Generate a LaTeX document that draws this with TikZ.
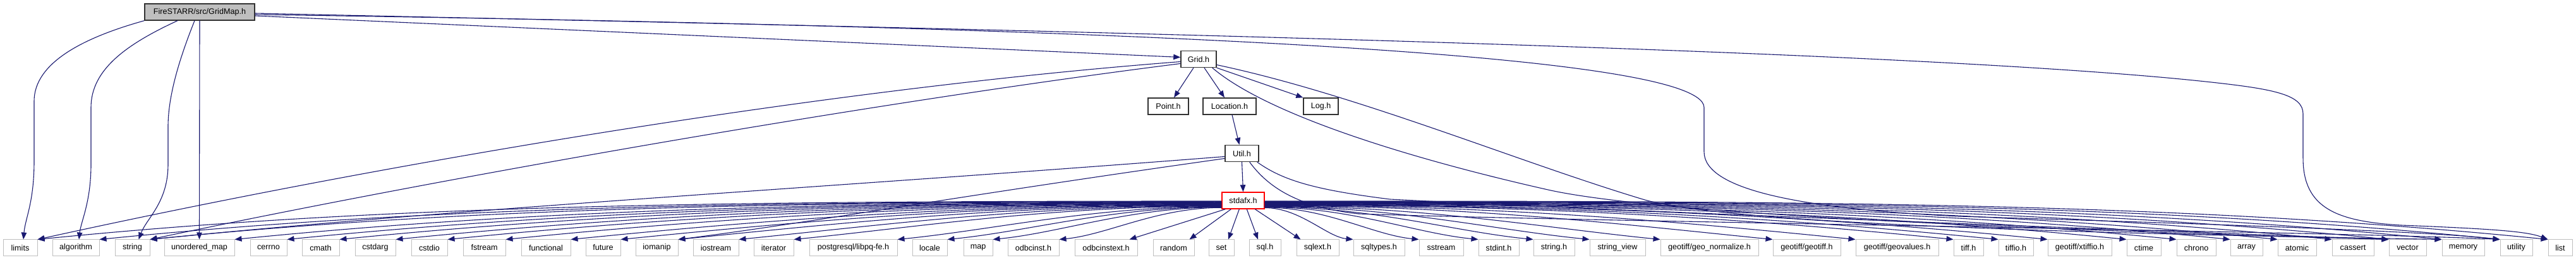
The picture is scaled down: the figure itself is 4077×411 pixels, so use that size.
\documentclass[tikz,border=0pt]{standalone}
\usepackage{fontspec}
\setmainfont{Liberation Sans}
\usetikzlibrary{arrows.meta,calc}
\definecolor{edgeblue}{RGB}{25,25,112}
\definecolor{leafgray}{RGB}{191,191,191}
\definecolor{rootfill}{RGB}{191,191,191}
\definecolor{boxline}{RGB}{50,50,50}
\newcommand\leafnode[4]{\node[leaf,minimum width=#3pt] (#1) at (#2,391.5) {#4};}
\begin{document}
\begin{tikzpicture}[x=1pt,y=-1pt,
  font=\fontsize{12.6}{15}\selectfont,
  leaf/.style={draw=leafgray,line width=1pt,fill=white,minimum height=25pt,inner sep=0pt},
  hdr/.style={draw=boxline,line width=1.4pt,fill=white,minimum height=26pt,inner sep=0pt},
  root/.style={hdr,fill=rootfill},
  trunc/.style={hdr,draw=red},
  conn/.style={draw=edgeblue,line width=1.1pt,-{Triangle[length=11pt,width=8.5pt]}},
  fan/.style={to path={let \p1=(\tikztostart), \p2=(\tikztotarget), \n1={\x2-\x1}, \n2={abs(\x2-\x1)} in .. controls ({\x1+0.4*(\n1)},\y1) and ({\x2-0.3*(\n1)},{\y2+0.03*(\n2)}) .. (\p2)}}
]
\fill[white] (0,0) rectangle (4077,411);
\useasboundingbox (0,0) rectangle (4077,411);

% upper nodes
\node[root,minimum width=174pt] (GridMap) at (316,19) {FireSTARR/src/GridMap.h};
\node[hdr,minimum width=56pt] (Grid) at (1897,93.5) {Grid.h};
\node[hdr,minimum width=64pt] (Point) at (1849,168) {Point.h};
\node[hdr,minimum width=84pt] (Location) at (1946,168) {Location.h};
\node[hdr,minimum width=55pt] (Log) at (2090.5,168) {Log.h};
\node[hdr,minimum width=53pt] (Util) at (1965.5,242.5) {Util.h};
\node[trunc,minimum width=67pt] (stdafx) at (1967.5,317) {stdafx.h};

% leaves
\leafnode{lm}{32}{54}{limits}
\leafnode{alg}{120}{74}{algorithm}
\leafnode{str}{209.5}{55}{string}
\leafnode{umap}{315.5}{111}{unordered\_map}
\leafnode{cerrno}{425}{58}{cerrno}
\leafnode{cmath}{507.5}{59}{cmath}
\leafnode{cstdarg}{594}{64}{cstdarg}
\leafnode{cstdio}{679.5}{57}{cstdio}
\leafnode{fstream}{766.5}{67}{fstream}
\leafnode{functional}{864}{78}{functional}
\leafnode{future}{954.5}{55}{future}
\leafnode{iomanip}{1039.5}{67}{iomanip}
\leafnode{iostream}{1133}{72}{iostream}
\leafnode{iterator}{1224.5}{63}{iterator}
\leafnode{pq}{1350.5}{139}{postgresql/libpq-fe.h}
\leafnode{locale}{1471.5}{55}{locale}
\leafnode{map}{1548}{46}{map}
\leafnode{odbc}{1635.5}{81}{odbcinst.h}
\leafnode{odbcx}{1750.5}{99}{odbcinstext.h}
\leafnode{random}{1857.5}{65}{random}
\leafnode{set}{1933}{40}{set}
\leafnode{sql}{2002}{50}{sql.h}
\leafnode{sqlext}{2085.5}{67}{sqlext.h}
\leafnode{sqltypes}{2182.5}{81}{sqltypes.h}
\leafnode{sstream}{2281}{70}{sstream}
\leafnode{stdint}{2372}{64}{stdint.h}
\leafnode{stringh}{2459.5}{65}{string.h}
\leafnode{sview}{2560}{88}{string\_view}
\leafnode{geonorm}{2705.5}{155}{geotiff/geo\_normalize.h}
\leafnode{geotiff}{2859.5}{107}{geotiff/geotiff.h}
\leafnode{geoval}{3002.5}{131}{geotiff/geovalues.h}
\leafnode{tiff}{3115.5}{47}{tiff.h}
\leafnode{tiffio}{3190.5}{55}{tiffio.h}
\leafnode{xtiffio}{3291.5}{101}{geotiff/xtiffio.h}
\leafnode{ctime}{3393}{54}{ctime}
\leafnode{chrono}{3476}{62}{chrono}
\leafnode{array}{3555.5}{51}{array}
\leafnode{atomic}{3635.5}{61}{atomic}
\leafnode{cassert}{3724}{66}{cassert}
\leafnode{vector}{3810.5}{59}{vector}
\leafnode{memory}{3898.5}{67}{memory}
\leafnode{utility}{3982.5}{51}{utility}
\leafnode{list}{4052}{38}{list}

% GridMap.h edges
\draw[conn] (GridMap.south west) .. controls (130,60) and (54,100) .. (54,160) -- (54,255) .. controls (54,320) and (40,345) .. ([xshift=5]lm.north);
\draw[conn] ([xshift=-35]GridMap.south) .. controls (200,70) and (144,110) .. (144,170) -- (144,260) .. controls (144,320) and (128,350) .. ([xshift=5]alg.north);
\draw[conn] ([xshift=-8]GridMap.south) .. controls (285,90) and (266,150) .. (266,200) -- (266,260) .. controls (266,320) and (232,345) .. ([xshift=10]str.north);
\draw[conn] (GridMap.south) -- (umap.north);
\draw[conn] ([yshift=-6]GridMap.east) -- ([yshift=3]Grid.west);
\draw[conn] ([yshift=-2]GridMap.east) .. controls (1500,45) and (3000,75) .. (3500,130) .. controls (3600,141) and (3645,150) .. (3645,180) -- (3645,250) .. controls (3645,330) and (3700,350) .. (3800,356) .. controls (3950,362) and (4000,366) .. (list.north west);
\draw[conn] ([yshift=-4]GridMap.east) .. controls (1700,42) and (2697,80) .. (2697,170) -- (2697,240) .. controls (2697,300) and (2850,330) .. (3100,342) .. controls (3500,354) and (3850,366) .. (utility.north west);

% Grid.h edges
\draw[conn] ([xshift=-8]Grid.south) -- ([xshift=9]Point.north);
\draw[conn] ([xshift=9]Grid.south) -- ([xshift=-8]Location.north);
\draw[conn] (Grid.south east) -- (Log.north west);
\draw[conn] ([yshift=-4]Grid.west) .. controls ($(Grid.west)+(-600,50)$) and ($(lm.north east)+(500,-110)$) .. (lm.north east);
\draw[conn] ([yshift=-7]Grid.west) .. controls ($(Grid.west)+(-500,70)$) and ($(str.north east)+(450,-95)$) .. (str.north east);
\draw[conn] ([yshift=-9]Grid.east) .. controls (2150,150) and (2400,255) .. (2600,315) .. controls (2750,360) and (3500,372) .. (memory.north west);
\draw[conn] ([xshift=-7]Grid.south east) .. controls (2010,185) and (2250,255) .. (2450,300) .. controls (2650,345) and (3400,368) .. (vector.north west);

% Location.h, Util.h edges
\draw[conn] ([xshift=4]Location.south) -- ([xshift=-4]Util.north);
\draw[conn] (Util.south) -- (stdafx.north);
\draw[conn] ([yshift=-5]Util.west) .. controls ($(Util.west)+(-600,52)$) and ($(str.north east)+(500,-50)$) .. (str.north east);
\draw[conn] ([yshift=-8]Util.west) .. controls ($(Util.west)+(-440,70)$) and ($(iomanip.north east)+(200,-25)$) .. (iomanip.north east);
\draw[conn] ([xshift=-15]Util.south east) .. controls (2010,300) and (2060,328) .. (2150,338) .. controls (2500,350) and (3700,366) .. (utility.north west);
\draw[conn] ([xshift=-3]Util.south east) .. controls (2030,285) and (2080,300) .. (2200,315) .. controls (2700,340) and (3500,368) .. (vector.north west);

% stdafx.h edges
\foreach \t [count=\i] in {lm,alg,str,umap,cerrno,cmath,cstdarg,cstdio,fstream,functional,future,iomanip,iostream,iterator,pq,locale,map,odbc}
  \draw[conn] ([yshift={-0.4-0.6*\i}]stdafx.west) to[fan] (\t.north east);
\draw[conn] ([xshift=6]stdafx.south west) -- ([xshift=37]odbcx.north);
\draw[conn] ([xshift=15]stdafx.south west) -- ([xshift=25]random.north);
\draw[conn] ([xshift=28]stdafx.south west) -- ([xshift=11]set.north);
\draw[conn] ([xshift=40]stdafx.south west) -- ([xshift=-11]sql.north);
\draw[conn] ([xshift=53]stdafx.south west) -- ([xshift=-27]sqlext.north);
\foreach \t [count=\i] in {sqltypes,sstream,stdint,stringh,sview,geonorm,geotiff,geoval,tiff,tiffio,xtiffio,ctime,chrono,array,atomic,cassert,vector,memory,utility,list}
  \draw[conn] ([yshift={-12+0.55*\i}]stdafx.east) to[fan] (\t.north west);
\end{tikzpicture}
\end{document}
